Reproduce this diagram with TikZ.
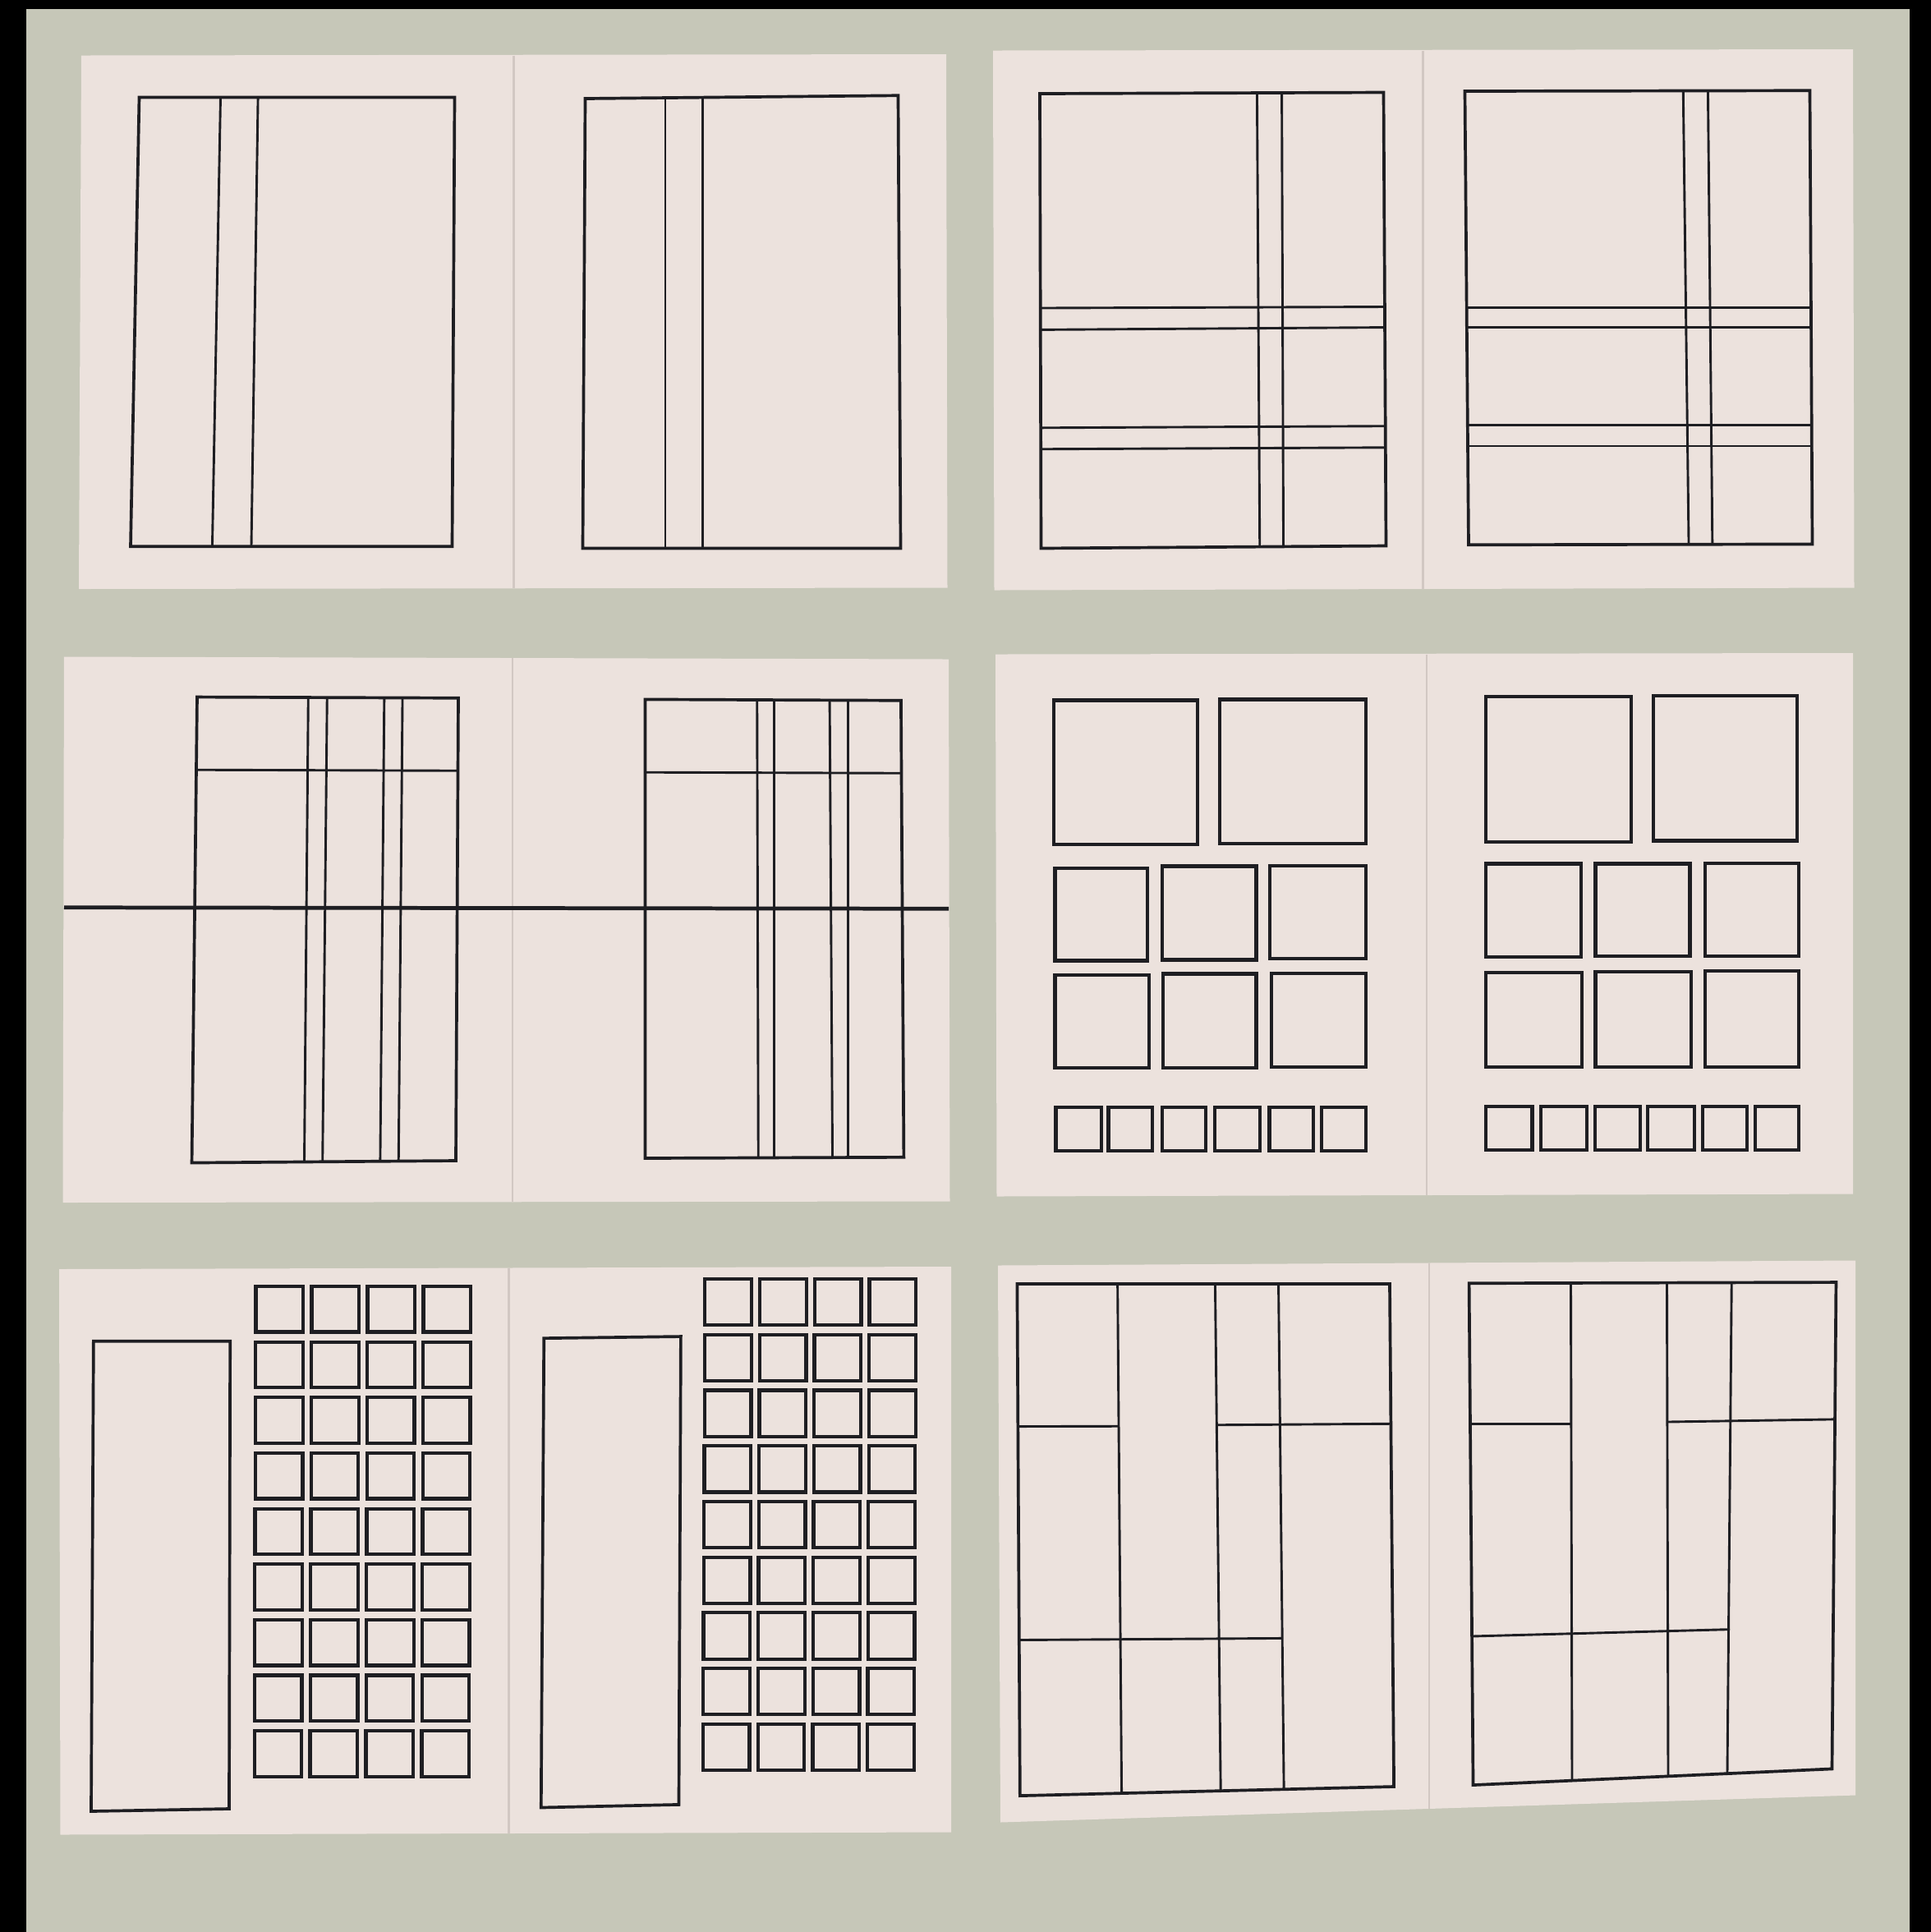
\documentclass[tikz,border=0pt]{standalone}
\usetikzlibrary{calc}

\begin{document}
\begin{tikzpicture}[x=0.1mm, y=-0.1mm]

% ---------------------------------------------------------------- colours
\definecolor{board}{HTML}{C6C7B8}    % the grey-green card behind the spreads
\definecolor{paper}{HTML}{ECE2DD}    % the page stock
\definecolor{foldline}{HTML}{D2C8C3} % gutter crease
\definecolor{ink}{HTML}{1E1E22}      % every ruled line

% ---------------------------------------------------------------- styles
\tikzset{
    spread/.style={fill=paper},
    fold/.style={draw=foldline, line width=0.5pt},
    pageframe/.style={draw=ink, line width=0.7pt, line join=miter},
    rule/.style={draw=ink, line width=0.55pt},
    cell/.style={draw=ink, line width=0.8pt},
}

% ================================================================
% GEOMETRY (one unit = one pixel of the photo at 1567 wide, y down)
%   spreads, left column   x =  50 .. 770,  fold near x = 415
%   spreads, right column  x = 808 .. 1505, fold near x = 1157
%   rows                   y = 45..477, 533..975, 1028..1488
% ================================================================

\useasboundingbox (0,0) rectangle (1567,1568);
\fill[black] (0,0) rectangle (1567,1568);
\fill[board] (21,7) rectangle (1550,1568);

% ---------------------------------------------------------------- paper
\fill[spread] (66,45) -- (768,44) -- (769,477) -- (64,478) -- cycle;
\fill[spread] (806,41) -- (1504,40) -- (1505,477) -- (807,479) -- cycle;
\fill[spread] (52,533) -- (770,535) -- (771,975) -- (51,976) -- cycle;
\fill[spread] (808,531) -- (1504,530) -- (1504,969) -- (809,971) -- cycle;
\fill[spread] (48,1030) -- (772,1028) -- (772,1487) -- (49,1489) -- cycle;
\fill[spread] (810,1027) -- (1506,1023) -- (1506,1457) -- (812,1479) -- cycle;

\foreach \x/\ya/\yb in {417/45/477, 1155/41/478, 416/534/975,
                        1158/531/970, 413/1029/1488, 1160/1025/1468} {
    \draw[fold] (\x,\ya) -- (\x,\yb);
}

% ---------------------------------------------------------------- spread one
% two columns, narrow gutter column left of centre
\draw[pageframe] (113,79) -- (369,79) -- (367,443.5) -- (106,443.5) -- cycle;
\draw[rule] (179,79) -- (172.3,443.5);
\draw[rule] (209.4,79) -- (204,443.5);

\draw[pageframe] (475,80) -- (729,77.5) -- (731,445) -- (473,445) -- cycle;
\draw[rule] (540,79) -- (540,445);
\draw[rule] (570.3,78.5) -- (570.3,445);

% ---------------------------------------------------------------- spread two
\draw[pageframe] (844,76) -- (1123,75) -- (1125,443) -- (845,445) -- cycle;
\draw[rule] (1020.3,75.5) -- (1022.5,444);
\draw[rule] (1040.4,75.5) -- (1041.7,444);
\foreach \ya/\yb in {250/249, 267.6/265.7, 347.2/345.8, 364.5/363.2} {
    \draw[rule] (844.5,\ya) -- (1124.5,\yb);
}

\draw[pageframe] (1189,74) -- (1469,73.5) -- (1471,441.6) -- (1192,442.2) -- cycle;
\draw[rule] (1366.2,74) -- (1370.7,442);
\draw[rule] (1386.3,74) -- (1389.9,442);
\foreach \y in {249.5, 265.7, 345, 362} {
    \draw[rule] (1190,\y) -- (1470.5,\y);
}

% ---------------------------------------------------------------- spread three
\draw[pageframe] (160,565.7) -- (372,566.5) -- (370,942) -- (155.7,943.7) -- cycle;
\foreach \xa/\xb in {250.2/247, 265.5/261.8, 311.9/308.6, 326.7/323.5} {
    \draw[rule] (\xa,566) -- (\xb,943);
}
\draw[rule] (159,624.8) -- (371.5,625.5);

\draw[pageframe] (523.7,567.6) -- (731.3,568.5) -- (733.6,939.2) -- (523.7,940) -- cycle;
\foreach \xa/\xb in {614.5/615.5, 628.4/628.4, 673.4/675.7, 688.2/688.2} {
    \draw[rule] (\xa,568) -- (\xb,939.6);
}
\draw[rule] (523.7,626.8) -- (731.5,627.5);

% the one line that runs across the whole spread
\draw[ink, line width=0.9pt] (52,736.5) -- (770,737.5);

% ---------------------------------------------------------------- spread four
\foreach \xa/\ya/\xb/\yb in {
    855.1/568.3/971.9/685.4, 989.8/567.7/1108.4/684.6,
    856.3/704.4/931.5/779.6, 943.4/703/1019.7/779, 1030.9/702.4/1108.4/778.2,
    856.3/791.5/932.6/866.9, 943.8/790.3/1019.7/866.9, 1031.8/790/1108.4/866,
    1205.8/565.5/1324/683.1, 1341.9/564.6/1458.6/682.3,
    1206.2/701/1283.2/776.7, 1295/701/1371.6/776.2, 1383.9/700.4/1459.8/776.2,
    1206.2/789.5/1283.9/866.1, 1295/788.6/1372.7/866.1, 1383.9/788.1/1460.2/866.1} {
    \draw[cell] (\xa,\ya) rectangle (\xb,\yb);
}
% strip of six thumbnails along the foot
\foreach \xa/\xb in {857/893.8, 899.6/935.5, 943.1/978.6,
                     986/1022.8, 1030.3/1066.2, 1072.9/1108.8} {
    \draw[cell] (\xa,898.7) rectangle (\xb,934.1);
}
\foreach \xa/\xb in {1206.2/1243.7, 1250.4/1287.9, 1294.6/1331.4,
                     1337.4/1375.4, 1382.1/1417.8, 1424.5/1460.2} {
    \draw[cell] (\xa,898.1) rectangle (\xb,933.3);
}

% ---------------------------------------------------------------- spread five
\draw[pageframe] (75.9,1088.5) -- (186.8,1088.5) -- (186,1468) -- (74,1470) -- cycle;
\foreach \r in {0,...,8} {
    \foreach \c in {0,...,3} {
        \draw[cell] ({207.7+45.3*\c-0.16*\r}, {1044+45.1*\r}) rectangle ++(38.4,37);
    }
}

\draw[pageframe] (441.5,1086.1) -- (552.6,1084.7) -- (551,1464.6) -- (439.2,1467) -- cycle;
\foreach \r in {0,...,8} {
    \foreach \c in {0,...,3} {
        \draw[cell] ({572.2+44.5*\c-0.2*\r}, {1038+45.15*\r}) rectangle ++(37.8,37.5);
    }
}

% ---------------------------------------------------------------- spread six
% staggered fields: columns run full height, rows break at different heights
\draw[pageframe] (825.6,1042) -- (1128,1042) -- (1131.4,1450) -- (827.9,1457.4) -- cycle;
\draw[rule] (907.1,1042) -- (910.4,1455.4);
\draw[rule] (986.3,1042) -- (990.8,1453.5);
\draw[rule] (1037.7,1042) -- (1042.1,1452.2);
\draw[rule] (826,1157.7) -- (908.5,1157.5);
\draw[rule] (987.5,1156.5) -- (1129.5,1155.5);
\draw[rule] (827,1331) -- (1040,1329.6);

\draw[pageframe] (1192.4,1041.5) -- (1490.3,1040.7) -- (1487,1435.6) -- (1195.7,1448.7) -- cycle;
\draw[rule] (1275,1041.3) -- (1276,1445);
\draw[rule] (1353,1041) -- (1354,1441.5);
\draw[rule] (1405.5,1041) -- (1402,1439.3);
\draw[rule] (1193,1155.4) -- (1275.3,1155.4);
\draw[rule] (1353.5,1154) -- (1489.5,1151.9);
\draw[rule] (1194.5,1328) -- (1404,1322.4);

\end{tikzpicture}
\end{document}
